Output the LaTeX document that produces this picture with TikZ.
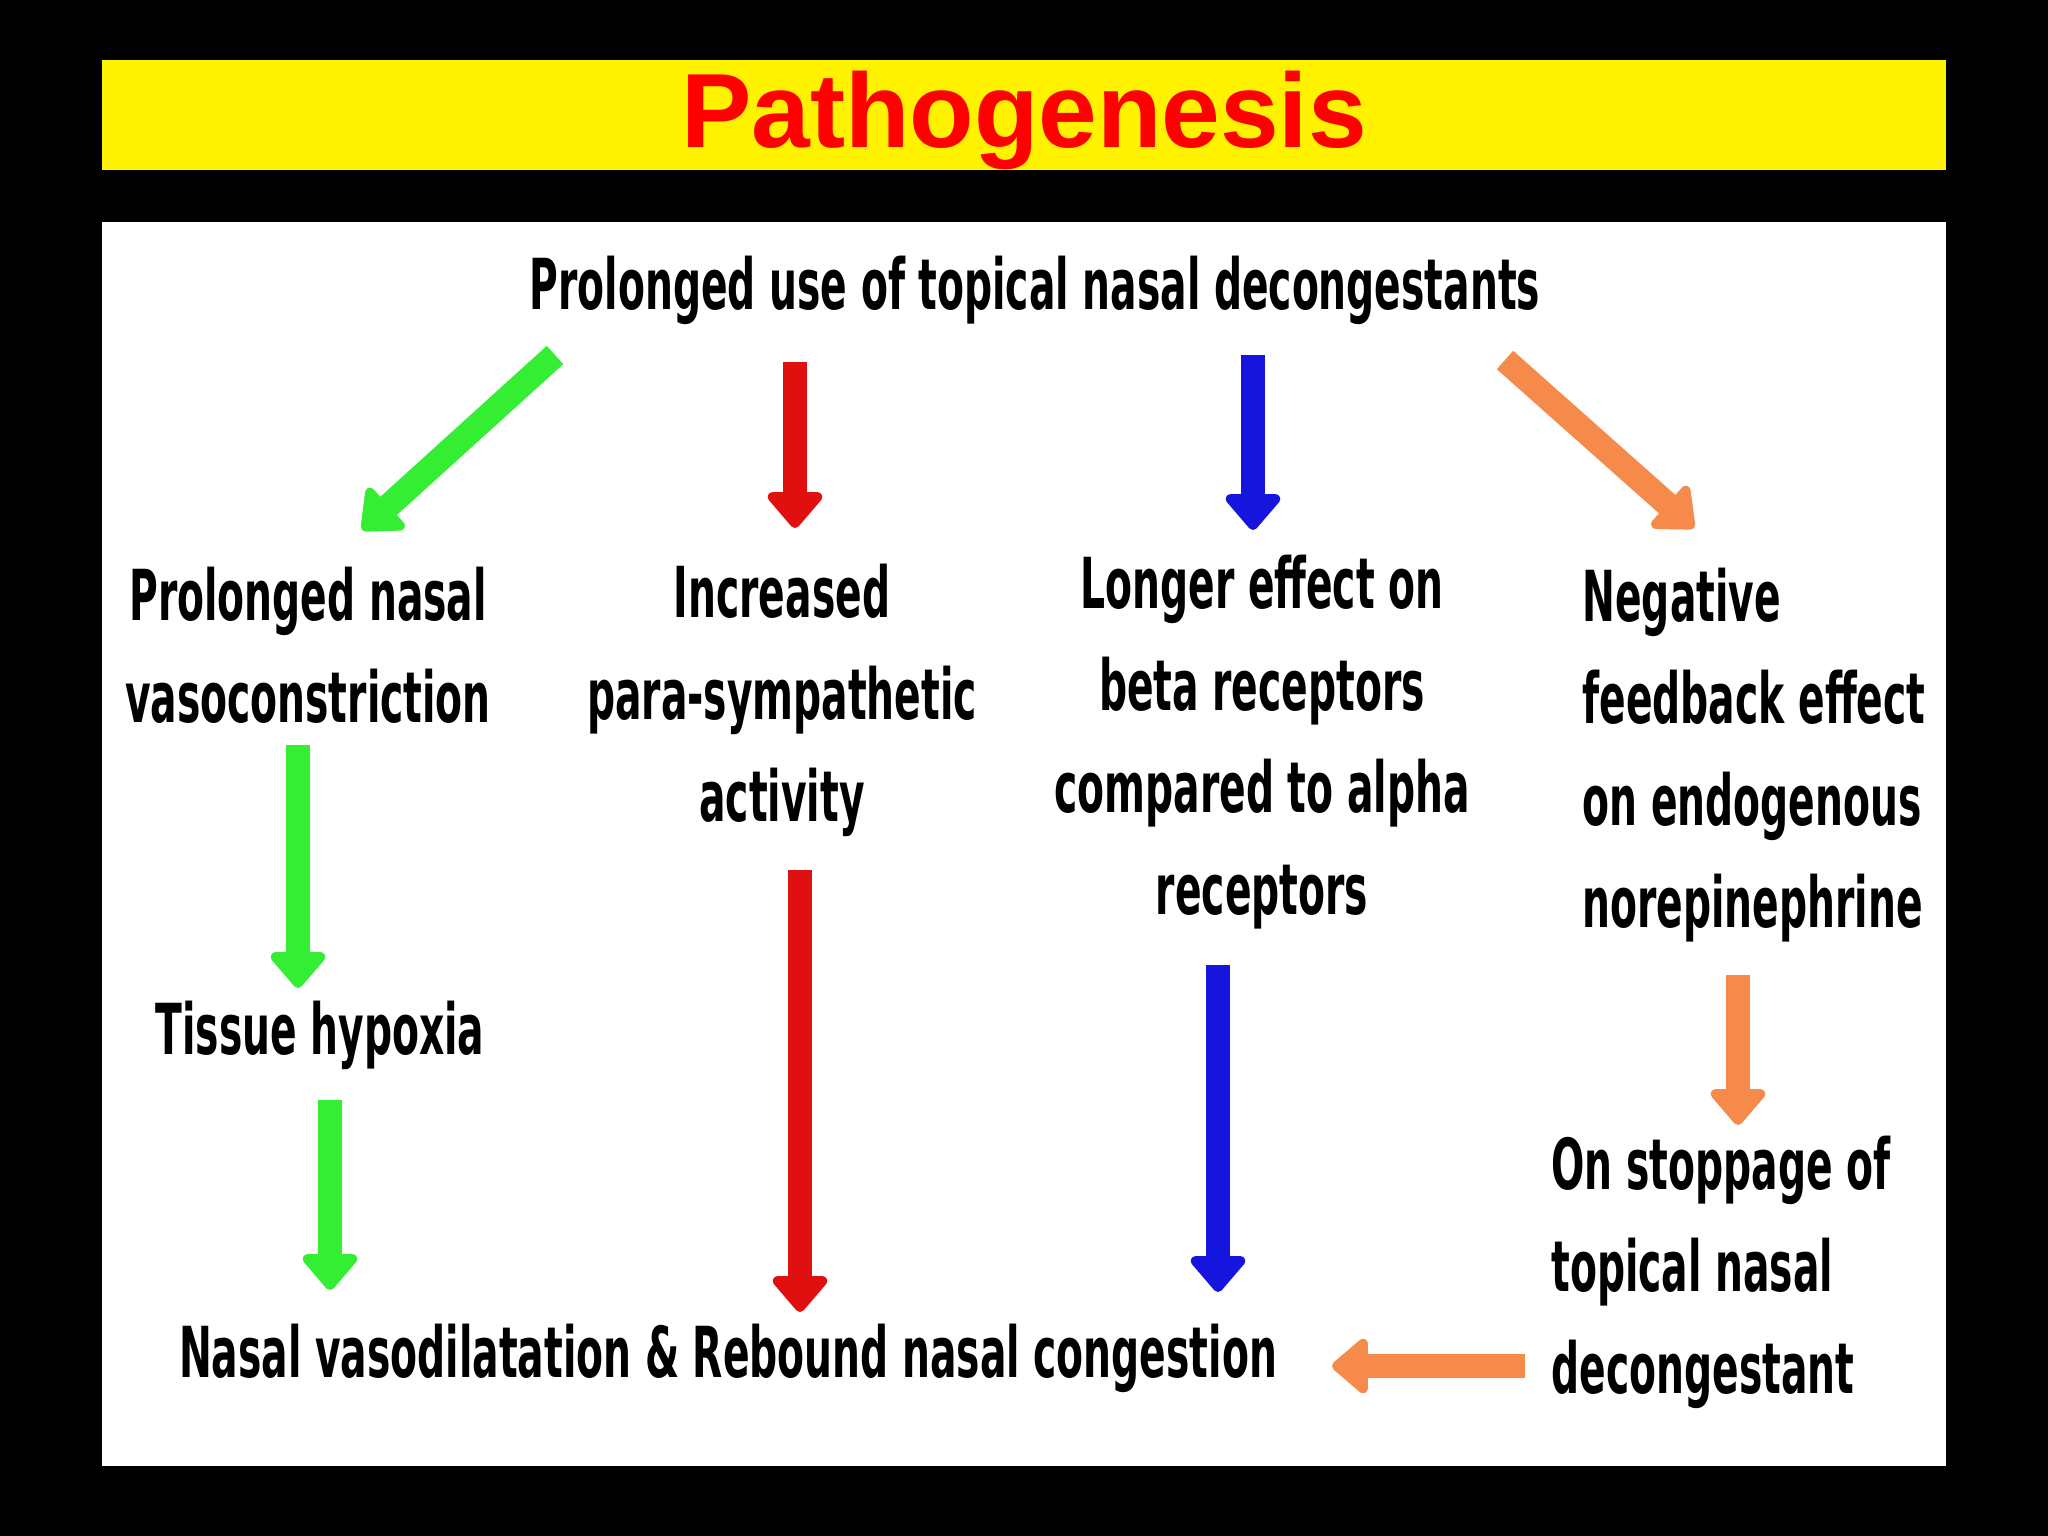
\documentclass[tikz,border=0pt]{standalone}
\usepackage{fontspec}
\setmainfont{DejaVu Sans Condensed}[FakeStretch=0.62]
\newfontfamily\titlefont{Liberation Sans}
\usetikzlibrary{arrows.meta}
\definecolor{cg}{HTML}{33EE33}
\definecolor{cr}{HTML}{E01010}
\definecolor{cb}{HTML}{1515DD}
\definecolor{co}{HTML}{F58A4A}
\begin{document}
\begin{tikzpicture}[x=0.01cm,y=-0.01cm,
  txt/.style={font=\fontsize{20}{29}\selectfont\bfseries, align=center, inner sep=0pt, text=black},
  arr/.style={line width=7pt, -{Triangle[width=18pt,length=11pt,round]}}]
\useasboundingbox (0,0) rectangle (2048,1536);
\fill[black] (0,0) rectangle (2048,1536);
\fill[yellow] (102,60) rectangle (1946,170);
\node[font=\titlefont\bfseries\fontsize{30}{32}\selectfont, text={rgb,255:red,255;green,0;blue,0}] (title) at (1024,120) {Pathogenesis};
\fill[white] (102,222) rectangle (1946,1466);
\node[txt] (top) at (1035,290) {Prolonged use of topical nasal decongestants};
\node[txt] (A) at (308,645) {Prolonged nasal\\vasoconstriction};
\node[txt] (B) at (782,700) {Increased\\para-sympathetic\\activity};
\node[txt] (C) at (1262,742) {Longer effect on\\beta receptors\\compared to alpha\\receptors};
\node[txt, align=left] (D) at (1754,755) {Negative\\feedback effect\\on endogenous\\norepinephrine};
\node[txt] (E) at (320,1035) {Tissue hypoxia};
\node[txt, align=left] (F) at (1721,1272) {On stoppage of\\topical nasal\\decongestant};
\node[txt] (G) at (728,1358) {Nasal vasodilatation \& Rebound nasal congestion};
\coordinate (a1) at (555,355); \coordinate (a2) at (362,530);
\coordinate (b1) at (795,362); \coordinate (b2) at (795,528);
\coordinate (c1) at (1253,355); \coordinate (c2) at (1253,530);
\coordinate (d1) at (1505,360); \coordinate (d2) at (1694,528);
\coordinate (e1) at (298,745); \coordinate (e2) at (298,988);
\coordinate (f1) at (330,1100); \coordinate (f2) at (330,1290);
\coordinate (g1) at (800,870); \coordinate (g2) at (800,1312);
\coordinate (h1) at (1218,965); \coordinate (h2) at (1218,1292);
\coordinate (i1) at (1738,975); \coordinate (i2) at (1738,1125);
\coordinate (j1) at (1525,1366); \coordinate (j2) at (1332,1366);
\draw[arr, cg] (a1) -- (a2);
\draw[arr, cr] (b1) -- (b2);
\draw[arr, cb] (c1) -- (c2);
\draw[arr, co] (d1) -- (d2);
\draw[arr, cg] (e1) -- (e2);
\draw[arr, cg] (f1) -- (f2);
\draw[arr, cr] (g1) -- (g2);
\draw[arr, cb] (h1) -- (h2);
\draw[arr, co] (i1) -- (i2);
\draw[arr, co] (j1) -- (j2);
\end{tikzpicture}
\end{document}
